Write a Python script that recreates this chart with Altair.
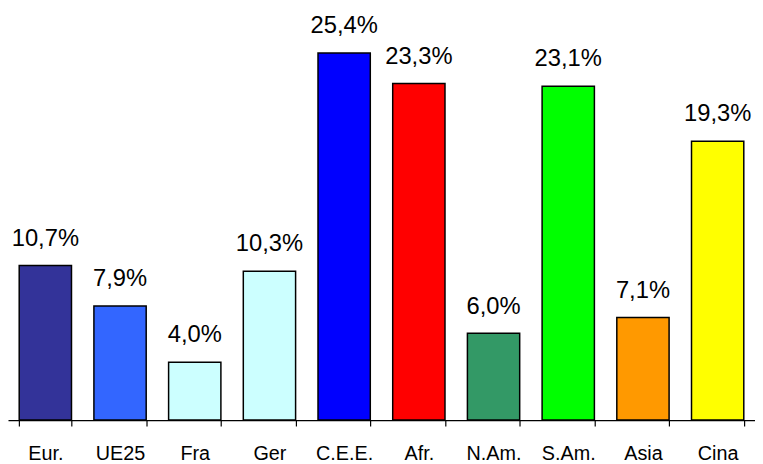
import altair as alt
import pandas as pd

categories = ["Eur.", "UE25", "Fra", "Ger", "C.E.E.", "Afr.", "N.Am.", "S.Am.", "Asia", "Cina"]
values = [10.7, 7.9, 4.0, 10.3, 25.4, 23.3, 6.0, 23.1, 7.1, 19.3]
colors = ["#333399", "#3366FF", "#CCFFFF", "#CCFFFF", "#0000FF",
          "#FF0000", "#339966", "#00FF00", "#FF9900", "#FFFF00"]

df = pd.DataFrame({
    "cat": categories,
    "val": values,
    "color": colors,
    "label": [f"{v:.1f}%".replace(".", ",") for v in values],
})

x = alt.X("cat:N", sort=categories, title=None,
          scale=alt.Scale(paddingInner=0.3, paddingOuter=0.15),
          axis=alt.Axis(labelAngle=0, labelFont="Liberation Sans", labelFontSize=20,
                        labelColor="black", labelPadding=18, tickBand="extent",
                        tickSize=6, tickColor="black", domainColor="black",
                        domainWidth=1.2, tickWidth=1.2, labelFlush=False))
y = alt.Y("val:Q", scale=alt.Scale(domain=[0, 28.35], nice=False), axis=None)

bars = alt.Chart(df).mark_bar(stroke="black", strokeWidth=1.5).encode(
    x=x, y=y, color=alt.Color("color:N", scale=None)
)
text = alt.Chart(df).mark_text(dy=-20, baseline="alphabetic", font="Liberation Sans",
                               fontSize=24, color="black").encode(
    x=alt.X("cat:N", sort=categories), y=y, text="label:N"
)

chart = (bars + text).properties(
    width=755, height=414, padding=0
).configure_view(stroke=None)

chart.save("out.html", embed_options={"renderer": "svg", "actions": False})
